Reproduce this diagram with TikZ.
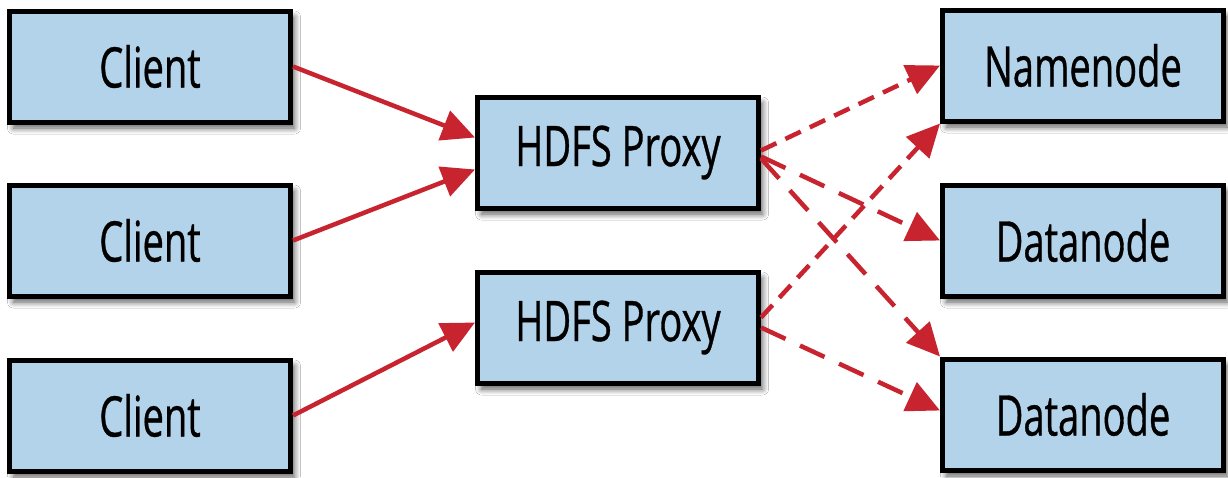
\documentclass[tikz,border=0pt]{standalone}
\usepackage{fontspec}
\setmainfont{Open Sans}[FakeStretch=0.68,FakeBold=0.6]
\usetikzlibrary{arrows.meta,shadows.blur}
\definecolor{boxblue}{HTML}{B2D3EA}
\definecolor{arrred}{HTML}{C8242F}
\begin{document}
\begin{tikzpicture}[x=1pt,y=-1pt,
  box/.style={draw=black, line width=5pt, fill=boxblue, minimum width=281pt, minimum height=111pt,
    inner sep=0pt, font=\fontsize{56}{60}\selectfont, text=black,
    blur shadow={shadow xshift=4pt, shadow yshift=-6pt, shadow blur radius=6pt, shadow blur steps=8, shadow opacity=65}},
  conn/.style={draw=arrred, line width=4.5pt, -{Triangle[length=33pt,width=31pt]}},
  shortdash/.style={conn, dash pattern=on 17pt off 10pt},
  longdash/.style={conn, dash pattern=on 27pt off 16pt}]
\useasboundingbox[fill=white] (0,0) rectangle (1228,477);
\node[box] (c1) at (150,66.5) {Client};
\node[box] (c2) at (150,240.5) {Client};
\node[box] (c3) at (150,415.5) {Client};
\node[box] (p1) at (618,152.5) {HDFS Proxy};
\node[box] (p2) at (618,327.5) {HDFS Proxy};
\node[box] (n) at (1083,65.5) {Namenode};
\node[box] (d1) at (1083,240.5) {Datanode};
\node[box] (d2) at (1083,414.5) {Datanode};
\draw[conn] (c1.east) -- ([yshift=15pt]p1.west);
\draw[conn] (c2.east) -- ([yshift=-17pt]p1.west);
\draw[conn] (c3.east) -- ([yshift=5pt]p2.west);
\draw[shortdash] ([yshift=2pt]p1.east) -- (n.west);
\draw[longdash] ([yshift=-4pt]p1.east) -- (d1.west);
\draw[longdash] ([yshift=-6pt]p1.east) -- (d2.north west);
\draw[shortdash] ([yshift=10pt]p2.east) -- (n.south west);
\draw[longdash] (p2.east) -- ([yshift=4pt]d2.west);
\end{tikzpicture}
\end{document}
